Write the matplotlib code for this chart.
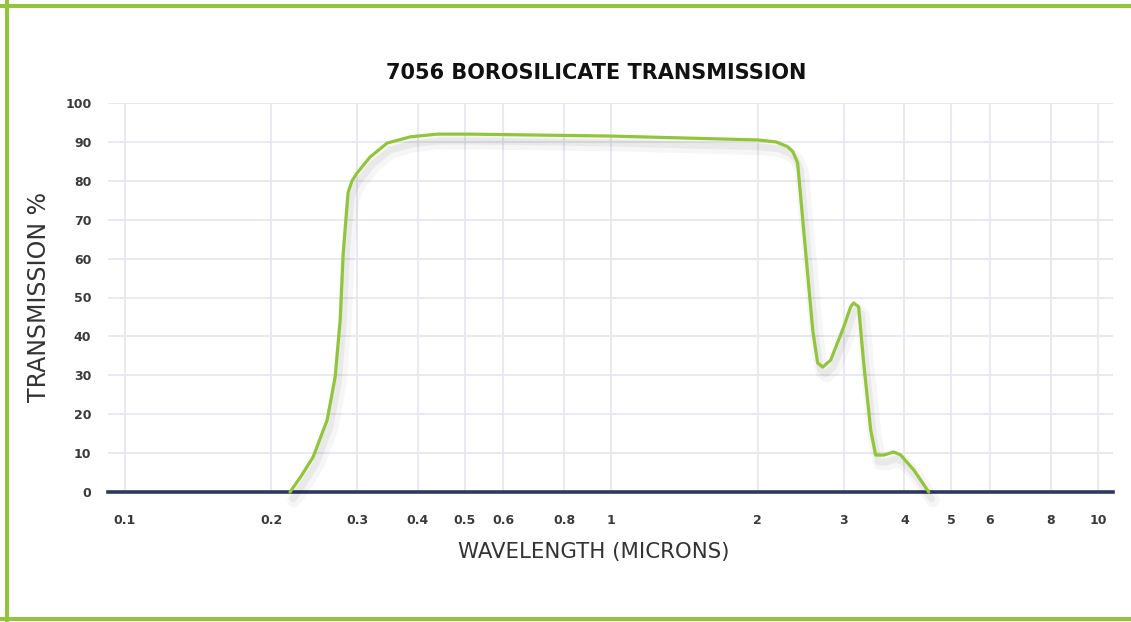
import matplotlib.pyplot as plt
import matplotlib.patheffects as pe
from matplotlib.lines import Line2D

# wavelength (microns) and transmission (%)
wavelength = [0.2185, 0.230, 0.2437, 0.2604, 0.2705, 0.277, 0.281, 0.2876, 0.293, 0.300,
              0.319, 0.346, 0.386, 0.4385, 0.513, 1.0, 2.0, 2.18, 2.30, 2.36, 2.414,
              2.484, 2.593, 2.654, 2.718, 2.822, 3.002, 3.10, 3.147, 3.222, 3.30,
              3.412, 3.493, 3.629, 3.804, 3.932, 4.182, 4.49]
transmission = [0, 4.0, 9.0, 18.5, 29.6, 44.2, 61.4, 77.1, 80.0, 82.0,
                86.1, 89.7, 91.3, 92.0, 92.0, 91.5, 90.5, 90.0, 88.8, 87.5, 84.6,
                67.4, 41.6, 33.2, 32.1, 33.9, 42.4, 47.5, 48.6, 47.6, 33.2,
                15.9, 9.5, 9.5, 10.3, 9.5, 5.7, 0]

xticks = [0.1, 0.2, 0.3, 0.4, 0.5, 0.6, 0.8, 1, 2, 3, 4, 5, 6, 8, 10]
xtick_labels = ['0.1', '0.2', '0.3', '0.4', '0.5', '0.6', '0.8', '1', '2', '3', '4', '5', '6', '8', '10']
yticks = list(range(0, 101, 10))

green = '#92c43c'
navy = '#2c3a5e'
grid_col = '#e6e8ef'
text_col = '#333333'

fig = plt.figure(figsize=(11.31, 6.22), dpi=100)
ax = fig.add_axes([108 / 1131, 130 / 622, 1005 / 1131, 389 / 622])

ax.set_xscale('log')
ax.set_xlim(0.0923, 10.74)
ax.set_ylim(0, 100)

# grid drawn by hand so the vertical lines stop at 0 and 100
for y in yticks[1:]:
    ax.axhline(y, color=grid_col, lw=1.3, zorder=1)
for x in xticks:
    ax.axvline(x, color=grid_col, lw=1.3, zorder=1)
ax.axhline(0, color=navy, lw=2.6, zorder=3, clip_on=False)

ax.plot(wavelength, transmission, color=green, lw=2.3, zorder=4,
        solid_joinstyle='round', solid_capstyle='round', clip_on=False,
        path_effects=[pe.SimpleLineShadow(offset=(3, -6), shadow_color='#000000', alpha=0.035, linewidth=10),
                      pe.SimpleLineShadow(offset=(2, -5), shadow_color='#000000', alpha=0.05, linewidth=5),
                      pe.Normal()])

for s in ax.spines.values():
    s.set_visible(False)

ax.set_xticks(xticks)
ax.set_xticklabels(xtick_labels)
ax.minorticks_off()
ax.set_yticks(yticks)
ax.tick_params(axis='both', length=0, labelsize=9, labelcolor='#3a3a3a')
ax.tick_params(axis='x', pad=16)
ax.tick_params(axis='y', pad=12)
for lab in ax.get_xticklabels() + ax.get_yticklabels():
    lab.set_fontweight('bold')

ax.set_title('7056 BOROSILICATE TRANSMISSION', fontsize=15, fontweight='bold',
             color='#111111', pad=17, x=0.4856)
ax.set_xlabel('WAVELENGTH (MICRONS)', fontsize=15.3, color=text_col)
ax.xaxis.set_label_coords(0.4836, -0.128, transform=ax.transAxes)
ax.xaxis.label.set_verticalalignment('top')
ax.set_ylabel('TRANSMISSION %', fontsize=17, color=text_col, labelpad=10)

# green frame on left, top and bottom
lw = 4 * 72 / 100
fig.add_artist(Line2D([7 / 1131, 7 / 1131], [0, 1], color=green, lw=lw, transform=fig.transFigure))
fig.add_artist(Line2D([0, 1], [1 - 6 / 622, 1 - 6 / 622], color=green, lw=lw, transform=fig.transFigure))
fig.add_artist(Line2D([0, 1], [3 / 622, 3 / 622], color=green, lw=lw, transform=fig.transFigure))

fig.savefig('out.png', dpi=100, facecolor='white')
